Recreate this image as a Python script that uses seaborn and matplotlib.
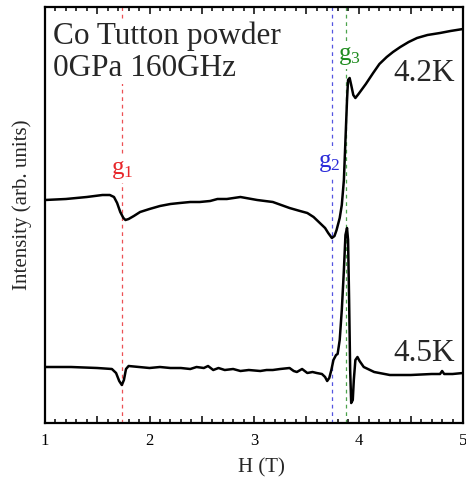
import numpy as np
import pandas as pd
import seaborn as sns
import matplotlib.pyplot as plt
from matplotlib.ticker import MultipleLocator, FixedFormatter, FixedLocator

# field (T) and intensity (arb. units)
field_42K = [1.00, 1.20, 1.40, 1.55, 1.62, 1.66, 1.69, 1.72, 1.75, 1.77,
             1.80, 1.85, 1.91, 2.00, 2.10, 2.20, 2.29, 2.39, 2.48, 2.58,
             2.65, 2.74, 2.87, 3.03, 3.18, 3.26, 3.34, 3.44, 3.51, 3.57,
             3.63, 3.68, 3.71, 3.745, 3.77, 3.79, 3.82, 3.84, 3.86, 3.875,
             3.89, 3.90, 3.915, 3.93, 3.95, 3.97, 4.00, 4.07, 4.14, 4.20,
             4.27, 4.33, 4.40, 4.48, 4.56, 4.66, 4.78, 4.88, 5.00]
signal_42K = [2.23, 2.24, 2.26, 2.28, 2.28, 2.26, 2.20, 2.11, 2.05, 2.03,
              2.04, 2.07, 2.11, 2.14, 2.17, 2.19, 2.20, 2.21, 2.21, 2.22,
              2.24, 2.24, 2.26, 2.23, 2.21, 2.18, 2.15, 2.12, 2.10, 2.06,
              2.00, 1.95, 1.90, 1.85, 1.87, 1.93, 2.05, 2.18, 2.43, 2.83,
              3.23, 3.43, 3.45, 3.38, 3.28, 3.25, 3.29, 3.39, 3.50, 3.59,
              3.66, 3.71, 3.76, 3.81, 3.85, 3.88, 3.90, 3.92, 3.94]

field_45K = [1.00, 1.25, 1.50, 1.64, 1.68, 1.71, 1.735, 1.755, 1.775, 1.80,
             1.90, 2.00, 2.10, 2.20, 2.30, 2.39, 2.45, 2.52, 2.56, 2.61,
             2.66, 2.72, 2.80, 2.87, 2.95, 3.06, 3.12, 3.18, 3.25, 3.34,
             3.38, 3.41, 3.46, 3.51, 3.56, 3.60, 3.65, 3.68, 3.70, 3.72,
             3.74, 3.76, 3.785, 3.80, 3.82, 3.84, 3.86, 3.875, 3.89, 3.90,
             3.91, 3.92, 3.93, 3.945, 3.955, 3.97, 3.99, 4.01, 4.05, 4.15,
             4.30, 4.50, 4.70, 4.78, 4.80, 4.82, 4.90, 5.00]
signal_45K = [0.56, 0.56, 0.55, 0.54, 0.50, 0.42, 0.38, 0.43, 0.54, 0.57,
              0.56, 0.55, 0.56, 0.55, 0.55, 0.54, 0.56, 0.55, 0.57, 0.53,
              0.55, 0.53, 0.54, 0.52, 0.53, 0.52, 0.53, 0.53, 0.54, 0.55,
              0.52, 0.51, 0.54, 0.50, 0.51, 0.50, 0.49, 0.46, 0.42, 0.45,
              0.53, 0.63, 0.68, 0.69, 0.83, 1.13, 1.53, 1.88, 1.95, 1.83,
              1.23, 0.53, 0.20, 0.23, 0.43, 0.63, 0.66, 0.62, 0.56, 0.51,
              0.48, 0.48, 0.49, 0.49, 0.52, 0.49, 0.49, 0.50]

g_names = ["1", "2", "3"]
g_fields = [1.74, 3.745, 3.885]
g_colors = ["#e8262a", "#2b2bd9", "#1f8c1f"]
g_label_pos = [(1.74, 2.53), (3.72, 2.60), (3.91, 3.67)]

sns.set_style("ticks")
plt.rcParams['font.family'] = ['Liberation Serif', 'DejaVu Serif']
plt.rcParams['mathtext.fontset'] = 'custom'
plt.rcParams['mathtext.rm'] = 'Liberation Serif'
plt.rcParams['mathtext.default'] = 'regular'

df_42 = pd.DataFrame({'H': field_42K, 'I': signal_42K})
df_45 = pd.DataFrame({'H': field_45K, 'I': signal_45K})

fig, ax = plt.subplots(figsize=(4.66, 4.79), dpi=100)
fig.subplots_adjust(left=0.0966, right=0.9936, bottom=0.1169, top=0.9854)

for gx, gc in zip(g_fields, g_colors):
    ax.axvline(gx, color=gc, lw=0.9, ls=(0, (3, 3)), alpha=0.8, zorder=1)

sns.lineplot(data=df_42, x='H', y='I', color='black', lw=1.8, sort=False, ax=ax, zorder=3)
sns.lineplot(data=df_45, x='H', y='I', color='black', lw=1.8, sort=False, ax=ax, zorder=3)

for name, (lx, ly), gc in zip(g_names, g_label_pos, g_colors):
    ax.text(lx, ly, "g$_{" + name + "}$", color=gc, fontsize=18, ha='center', va='center',
            bbox=dict(facecolor='white', edgecolor='none', pad=1), zorder=4)

ax.text(0.02, 0.965, "Co Tutton powder\n0GPa 160GHz", transform=ax.transAxes,
        fontsize=22.5, ha='left', va='top', linespacing=1.12,
        bbox=dict(facecolor='white', edgecolor='none', pad=1), zorder=4)
ax.text(0.981, 0.84, "4.2K", transform=ax.transAxes, fontsize=22.5, ha='right', va='center', zorder=4)
ax.text(0.981, 0.166, "4.5K", transform=ax.transAxes, fontsize=22.5, ha='right', va='center', zorder=4)

ax.set_xlim(1, 5)
ax.set_ylim(0, 4.16)
ax.xaxis.set_major_locator(FixedLocator([1, 1.5, 2, 2.5, 3, 3.5, 4, 4.5, 5]))
ax.xaxis.set_major_formatter(FixedFormatter(['1', '', '2', '', '3', '', '4', '', '5']))
ax.xaxis.set_minor_locator(MultipleLocator(0.1))
ax.set_yticks([])
ax.tick_params(axis='x', which='both', direction='in', top=True, bottom=True,
               labelsize=12, pad=7, colors='black', width=1.1)
ax.tick_params(axis='x', which='major', length=5)
ax.tick_params(axis='x', which='minor', length=2.6)
for sp in ax.spines.values():
    sp.set_linewidth(1.6)
    sp.set_color('black')

ax.set_xlabel("H (T)", fontsize=15)
ax.set_ylabel("Intensity (arb. units)", fontsize=15)
ax.xaxis.set_label_coords(0.517, -0.085)
ax.yaxis.set_label_coords(-0.03, 0.524)

fig.savefig("out.png", dpi=100)
